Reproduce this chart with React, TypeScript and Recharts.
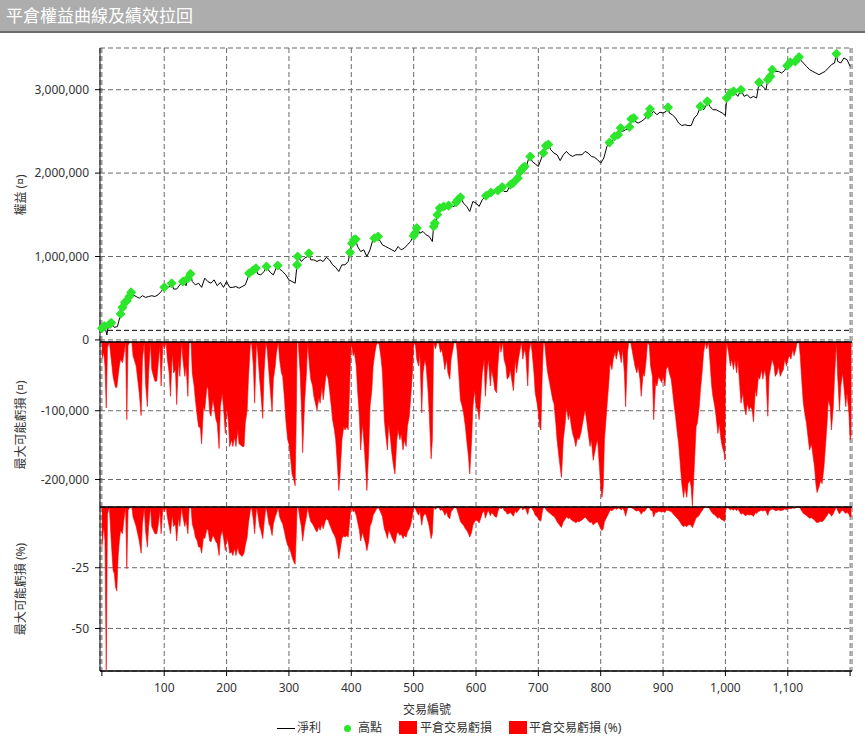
import { ComposedChart, Line, Scatter, Area, XAxis, YAxis, CartesianGrid, ReferenceLine } from 'recharts';

const FONT = "'Noto Sans', 'Noto Sans CJK TC', sans-serif";

// 權益 (thousands), sampled every few trades
const equityK: [number, number][] = [
  [0, 130], [5, 160], [8, 60], [10, 150], [20, 150], [25, 160], [35, 380], [45, 510], [50, 540], [55, 520], [60, 500],
  [65, 530], [70, 510], [75, 520], [80, 530], [85, 520], [90, 540], [95, 580], [105, 620], [110, 650], [115, 610],
  [120, 610], [125, 660], [135, 650], [140, 730], [145, 700], [150, 660], [155, 680], [160, 630], [165, 740], [170, 700],
  [175, 680], [180, 720], [185, 650], [190, 690], [195, 630], [200, 700], [205, 630], [210, 630], [215, 640], [220, 620],
  [225, 640], [230, 660], [235, 760], [240, 795], [245, 830], [250, 790], [255, 780], [260, 820], [265, 860], [270, 810],
  [275, 780], [280, 870], [285, 850], [290, 820], [295, 780], [300, 720], [305, 700], [310, 680], [315, 995], [320, 940],
  [325, 980], [330, 1000], [335, 960], [340, 960], [345, 940], [350, 960], [355, 940], [360, 990], [365, 960], [370, 900],
  [375, 870], [380, 820], [385, 900], [390, 900], [395, 940], [400, 1150], [405, 1205], [410, 1120], [415, 1060],
  [420, 1080], [425, 1000], [430, 1080], [435, 1210], [440, 1230], [445, 1200], [450, 1140], [455, 1120], [460, 1100],
  [465, 1080], [470, 1060], [475, 1120], [480, 1080], [485, 1100], [490, 1140], [495, 1180], [510, 1280], [515, 1300],
  [520, 1260], [525, 1240], [530, 1180], [535, 1380], [540, 1490], [545, 1570], [550, 1560], [555, 1600], [560, 1600],
  [565, 1600], [570, 1640], [580, 1640], [585, 1600], [590, 1540], [595, 1660], [600, 1640], [605, 1600], [610, 1680],
  [615, 1720], [620, 1720], [625, 1765], [630, 1760], [640, 1780], [645, 1780], [650, 1780], [660, 1875], [665, 1870],
  [670, 1960], [680, 2060], [685, 2190], [690, 2140], [695, 2110], [700, 2080], [705, 2180], [710, 2250], [715, 2300],
  [720, 2280], [725, 2240], [730, 2220], [735, 2150], [740, 2220], [745, 2260], [750, 2220], [755, 2200], [760, 2220],
  [765, 2220], [770, 2220], [775, 2260], [780, 2240], [785, 2200], [790, 2190], [795, 2160], [800, 2120], [805, 2180],
  [810, 2320], [815, 2340], [820, 2400], [825, 2420], [830, 2480], [835, 2500], [840, 2520], [845, 2530], [850, 2630],
  [855, 2620], [860, 2600], [865, 2620], [870, 2645], [880, 2700], [885, 2740], [890, 2700], [895, 2730], [900, 2720],
  [905, 2740], [910, 2720], [915, 2700], [920, 2660], [925, 2600], [930, 2570], [935, 2580], [940, 2570], [945, 2570],
  [950, 2660], [955, 2700], [965, 2760], [970, 2820], [975, 2800], [980, 2760], [985, 2760], [990, 2740], [995, 2720],
  [1000, 2690], [1005, 2880], [1010, 2950], [1015, 2960], [1020, 2920], [1030, 2920], [1035, 2940], [1040, 2900],
  [1045, 2920], [1050, 2900], [1055, 3060], [1060, 3040], [1065, 3000], [1070, 3130], [1080, 3220], [1085, 3220],
  [1090, 3200], [1095, 3230], [1100, 3270], [1105, 3310], [1110, 3320], [1115, 3360], [1120, 3360], [1125, 3320],
  [1130, 3280], [1135, 3240], [1140, 3220], [1145, 3200], [1150, 3180], [1155, 3200], [1160, 3220], [1165, 3260],
  [1170, 3300], [1175, 3320], [1180, 3340], [1185, 3320], [1190, 3380], [1195, 3360], [1200, 3280],
];

// 高點 (new equity highs, thousands)
const highsK: [number, number][] = [
  [0, 140], [4, 165], [13, 190], [15, 205], [30, 310], [33, 390], [37, 450], [40, 470], [44, 520], [47, 570],
  [100, 632], [112, 680], [130, 700], [138, 740], [142, 792], [236, 800], [242, 832], [247, 860], [264, 880],
  [282, 892], [313, 900], [314, 1000], [332, 1040], [398, 1048], [401, 1160], [404, 1200], [407, 1208], [437, 1220],
  [443, 1240], [500, 1250], [502, 1280], [505, 1340], [532, 1360], [534, 1400], [538, 1500], [542, 1580], [548, 1600],
  [556, 1610], [568, 1650], [571, 1680], [575, 1710], [616, 1728], [624, 1768], [635, 1792], [642, 1832], [655, 1860],
  [659, 1880], [667, 1940], [671, 2020], [675, 2060], [678, 2080], [687, 2200], [708, 2240], [712, 2328], [716, 2344],
  [814, 2368], [822, 2440], [828, 2460], [832, 2540], [846, 2552], [849, 2648], [853, 2660], [876, 2700], [879, 2768],
  [908, 2788], [960, 2800], [971, 2860], [1002, 2900], [1008, 2960], [1013, 2980], [1025, 3000], [1054, 3088],
  [1068, 3120], [1072, 3160], [1075, 3240], [1099, 3288], [1104, 3328], [1112, 3340], [1118, 3392], [1178, 3432],
];

// [trade, 平倉交易虧損 (thousands), 平倉交易虧損 (%)]
const lossRows: [number, number, number][] = [
  [0, -25, -16.5], [3, -15, -8], [5, -35, -14], [7, -96, -67], [9, -8, -3], [12, 0, 0], [15, -25, -14], [18, -50, -26],
  [20, -59, -27.5], [22, -66, -33], [24, -66, -34.6], [26, -50, -20.6], [28, -35, -14], [30, -25, -9.6], [33, -30, -11],
  [35, -20, -6], [38, 0, 0], [40, -113, -25.4], [42, -5, -1.4], [45, 0, 0], [48, 0, 0], [50, -20, -4], [55, -35, -8],
  [60, -74, -14], [63, -107, -19], [65, -25, -7], [68, 0, 0], [70, -59, -9.6], [73, -94, -16.5], [75, -45, -8], [78, 0, 0],
  [80, -40, -8], [85, -57, -11], [88, -57, -11], [90, -35, -8], [93, -5, -1.4], [95, -64, -11], [98, 0, 0], [100, -10, -2],
  [103, 0, 0], [105, -25, -4], [108, -45, -8], [110, -79, -11], [113, -15, -3.4], [115, -45, -8], [118, -40, -7],
  [120, -91, -14], [123, -25, -4], [125, -50, -8], [128, 0, 0], [130, -25, -4], [133, -50, -8], [135, -35, -5.5],
  [138, -79, -11], [140, 0, 0], [143, 0, 0], [145, -45, -7], [148, -64, -9.6], [150, -84, -12.4], [153, -108, -14],
  [155, -123, -16.5], [158, -125, -16.5], [160, -148, -19], [163, -94, -12.4], [165, -99, -13], [168, -69, -9.6],
  [170, -64, -9], [173, -103, -14], [175, -108, -14.4], [178, -84, -11.7], [180, -94, -12.4], [183, -113, -14.4],
  [185, -118, -15], [188, -155, -20], [190, -94, -12.4], [193, -74, -9.6], [195, -94, -12.4], [198, -133, -17.9],
  [200, -94, -12.4], [203, -116, -15], [205, -152, -19], [208, -142, -18.5], [210, -152, -20], [213, -138, -17],
  [215, -152, -20], [218, -128, -16.5], [220, -148, -19], [223, -150, -20], [225, -152, -20.3], [228, -152, -19],
  [230, -118, -15.8], [233, -99, -12.4], [235, -54, -7], [238, -5, -1.4], [240, 0, 0], [243, -35, -5.5], [245, -89, -11],
  [248, 0, 0], [250, -15, -2.7], [253, -54, -8], [255, -74, -9.6], [258, -111, -13], [260, -45, -7], [263, 0, 0],
  [265, -10, -2], [268, -45, -7], [270, -69, -8], [273, -101, -11.7], [275, -54, -7], [278, -35, -4], [280, -15, -2.7],
  [283, 0, 0], [285, -25, -4], [288, -45, -6], [290, -50, -7], [293, -84, -10.3], [295, -113, -13], [298, -142, -15.8],
  [300, -148, -16.5], [303, -172, -18.5], [305, -192, -20.6], [308, -201, -22.7], [310, -209, -23.6], [312, -94, -9.6],
  [313, 0, 0], [315, 0, 0], [318, -45, -5.5], [320, -94, -8], [322, -161, -14], [325, -89, -8], [328, -45, -4], [330, 0, 0],
  [333, -35, -4], [335, -54, -6], [338, -64, -7], [340, -79, -8], [343, -91, -9.6], [345, -99, -10.3], [348, -81, -8],
  [350, -89, -9.6], [353, -64, -7], [355, -84, -9], [358, -59, -6], [360, -45, -4.8], [363, -54, -5.5], [365, -69, -7],
  [368, -94, -9], [370, -113, -10.3], [373, -128, -11.7], [375, -142, -13], [378, -182, -17], [380, -216, -21.3],
  [382, -192, -17.9], [385, -142, -13], [388, -123, -11.7], [390, -128, -12.4], [393, -123, -11.7], [395, -128, -12.4],
  [398, -45, -4], [400, 0, 0], [403, -20, -2], [405, -15, -1.4], [408, -35, -3.4], [410, -69, -6], [413, -108, -9.6],
  [415, -157, -14], [418, -118, -10.3], [420, -142, -12.4], [423, -182, -15], [425, -216, -18], [428, -157, -14],
  [430, -94, -8], [433, -69, -6], [435, -35, -3.4], [438, -15, -2], [440, -5, -1], [443, 0, 0], [445, -5, -1],
  [448, -25, -2.7], [450, -45, -4], [453, -113, -9], [455, -133, -10.3], [458, -157, -13], [460, -118, -9.6],
  [463, -142, -11], [465, -162, -12.4], [468, -182, -14], [470, -192, -15], [473, -142, -11], [475, -128, -10.3],
  [478, -142, -11.7], [480, -133, -11], [483, -157, -13], [485, -142, -11.7], [488, -152, -12.4], [490, -123, -10.3],
  [493, -108, -9], [495, -84, -7.5], [498, -45, -4], [500, 0, 0], [503, -5, -0.7], [505, -25, -2], [508, -35, -3.4],
  [510, -15, -1.6], [513, -103, -7.5], [515, -45, -4], [518, -25, -2.7], [520, -35, -3.4], [523, -69, -6], [525, -103, -8],
  [528, -170, -13], [530, -142, -11], [532, 0, 0], [535, -10, -1], [538, 0, 0], [540, 0, 0], [543, -15, -1.4],
  [545, -10, -1], [548, -25, -2], [550, -40, -3.4], [553, -25, -2], [555, -45, -4], [558, -54, -4.8], [560, -25, -2],
  [563, -10, -1], [565, 0, 0], [568, 0, 0], [570, -15, -1.4], [573, -54, -4], [575, -84, -6], [578, -94, -7],
  [580, -103, -7.5], [583, -123, -9], [585, -142, -9.6], [588, -167, -11], [590, -192, -12.4], [593, -142, -10.3],
  [595, -94, -7.5], [598, -69, -6], [600, -94, -5.5], [603, -99, -5.8], [605, -113, -6.6], [608, -74, -4.3],
  [610, -45, -2.6], [613, -25, -1.5], [615, -79, -4.6], [618, -40, -2.3], [620, -25, -1.4], [623, -64, -3.6],
  [625, -40, -2.3], [628, -54, -3.1], [630, -69, -3.9], [633, -74, -4.2], [635, -35, -2], [638, 0, 0], [640, -15, -0.8],
  [643, 0, 0], [645, -25, -1.4], [648, -35, -1.9], [650, -54, -2.9], [653, -50, -2.7], [655, -40, -2.2], [658, -59, -3.2],
  [660, -71, -3.8], [663, -25, -1.4], [665, -45, -2.4], [668, -25, -1.4], [670, -15, -0.7], [673, 0, 0], [675, -25, -1.2],
  [678, -10, -0.5], [680, -20, -1], [683, -64, -3.1], [685, -15, -0.7], [688, 0, 0], [690, -15, -0.7], [693, -45, -2],
  [695, -74, -3.4], [698, -89, -4], [700, -103, -4.7], [702, -123, -5.6], [704, -128, -5.8], [706, -54, -2.5], [708, 0, 0],
  [710, 0, 0], [713, -30, -1.3], [715, -45, -1.9], [718, -59, -2.5], [720, -69, -2.9], [723, -84, -3.6], [725, -89, -3.8],
  [728, -118, -5], [730, -142, -6.1], [733, -167, -7.1], [735, -182, -7.8], [737, -197, -8.4], [740, -142, -6.1],
  [743, -118, -5], [745, -94, -4], [748, -113, -4.8], [750, -103, -4.4], [753, -123, -5.3], [755, -133, -5.7],
  [758, -142, -6.1], [760, -152, -6.5], [763, -138, -5.9], [765, -142, -6.1], [768, -133, -5.7], [770, -123, -5.3],
  [773, -108, -4.6], [775, -99, -4.2], [778, -118, -5], [780, -133, -5.7], [783, -152, -6.5], [785, -142, -6.1],
  [788, -172, -7.4], [790, -162, -6.9], [793, -148, -6.3], [795, -142, -6.1], [798, -182, -7.8], [800, -211, -9],
  [802, -226, -9.7], [804, -211, -9], [806, -142, -6.1], [808, -118, -5], [810, -94, -4], [813, -59, -2.5],
  [815, -30, -1.2], [818, -40, -1.6], [820, -25, -1], [823, -15, -0.6], [825, -25, -1], [828, -10, -0.4], [830, -15, -0.6],
  [833, -30, -1.2], [835, -10, -0.4], [838, -45, -1.8], [840, -94, -3.8], [843, -15, -0.6], [845, 0, 0], [848, 0, 0],
  [850, -10, -0.4], [853, -25, -0.9], [855, -35, -1.3], [858, -45, -1.7], [860, -35, -1.3], [863, -54, -2],
  [865, -79, -3], [868, -45, -1.7], [870, -50, -1.9], [873, -25, -0.9], [875, 0, 0], [878, -5, -0.2], [880, -35, -1.3],
  [883, -50, -1.8], [885, -113, -4.1], [888, -59, -2.1], [890, -64, -2.3], [893, -50, -1.8], [895, -54, -1.9],
  [898, -59, -2.1], [900, -50, -1.8], [903, -64, -2.3], [905, -40, -1.4], [908, -35, -1.3], [910, -45, -1.6],
  [913, -54, -1.9], [915, -69, -2.5], [918, -94, -3.4], [920, -108, -3.9], [923, -133, -4.8], [925, -148, -5.3],
  [928, -182, -6.5], [930, -206, -7.4], [933, -226, -8.1], [935, -211, -7.6], [938, -226, -8.1], [940, -206, -7.4],
  [943, -201, -7.2], [945, -211, -7.6], [947, -238, -8.5], [950, -182, -6.5], [953, -123, -4.4], [955, -118, -4.2],
  [958, -94, -3.4], [960, -69, -2.4], [963, -40, -1.4], [965, -15, -0.5], [968, 0, 0], [970, -10, -0.3], [973, 0, 0],
  [975, -25, -0.9], [978, -64, -2.2], [980, -79, -2.8], [983, -94, -3.3], [985, -108, -3.8], [988, -133, -4.7],
  [990, -118, -4.1], [993, -142, -5], [995, -152, -5.3], [998, -162, -5.7], [999, -172, -6], [1000, -54, -1.9],
  [1002, 0, 0], [1005, -15, -0.5], [1008, -35, -1.2], [1010, -25, -0.8], [1013, -40, -1.3], [1015, -25, -0.8],
  [1018, -45, -1.5], [1020, -25, -0.8], [1023, -64, -2.1], [1025, -89, -3], [1028, -74, -2.5], [1030, -94, -3.2],
  [1033, -106, -3.6], [1035, -89, -3], [1038, -99, -3.3], [1040, -94, -3.2], [1043, -99, -3.3], [1045, -116, -3.9],
  [1048, -69, -2.3], [1050, -79, -2.7], [1053, -50, -1.7], [1055, -54, -1.7], [1058, -40, -1.3], [1060, -54, -1.7],
  [1063, -40, -1.3], [1065, -50, -1.6], [1068, -108, -3.5], [1070, -50, -1.6], [1073, -35, -1.1], [1075, -25, -0.8],
  [1078, -35, -1.1], [1080, -50, -1.5], [1083, -45, -1.4], [1085, -35, -1.1], [1088, -50, -1.5], [1090, -45, -1.4],
  [1093, -40, -1.2], [1095, -25, -0.8], [1098, -35, -1.1], [1100, -25, -0.8], [1103, -20, -0.6], [1105, -25, -0.8],
  [1108, -10, -0.3], [1110, -20, -0.6], [1113, -10, -0.3], [1115, 0, 0], [1118, 0, 0], [1120, -20, -0.6],
  [1123, -64, -1.9], [1125, -89, -2.6], [1128, -108, -3.2], [1130, -118, -3.5], [1133, -142, -4.2], [1135, -157, -4.6],
  [1138, -148, -4.4], [1140, -162, -4.8], [1143, -182, -5.4], [1145, -206, -6.1], [1147, -219, -6.5], [1150, -211, -6.2],
  [1153, -201, -5.9], [1155, -206, -6.1], [1158, -182, -5.4], [1160, -157, -4.6], [1163, -118, -3.5], [1165, -84, -2.5],
  [1168, -94, -2.8], [1170, -128, -3.8], [1173, -94, -2.8], [1175, -50, -1.5], [1178, 0, 0], [1180, -50, -1.5],
  [1183, -99, -2.9], [1185, -64, -1.9], [1188, -45, -1.3], [1190, -64, -1.9], [1193, -94, -2.7], [1195, -74, -2.2],
  [1198, -103, -3], [1200, -142, -4.1], [1202, -133, -3.9],
];

const tradeTicks = [0, 100, 200, 300, 400, 500, 600, 700, 800, 900, 1000, 1100, 1200];
const equityTicks = [0, 1000000, 2000000, 3000000];
const lossTicks = [-100000, -200000];
const pctTicks = [-25, -50];
const startEquity = 115000;

// build chart rows
const lineMap = new Map<number, number>();
equityK.forEach(([t, v]) => lineMap.set(t, v));
highsK.forEach(([t, v]) => lineMap.set(t, v));
const equityRows = [...lineMap.entries()].sort((a, b) => a[0] - b[0]).map(([t, v]) => ({ t, v: v * 1000 }));
const highRows = highsK.map(([t, v]) => ({ t, v: v * 1000 }));
const lossData = lossRows.map(([t, k, p]) => ({ t, d: k * 1000, p }));

const X_DOMAIN = [-3, 1203];
const GREEN = '#2ce62c';
const RED = '#ff0000';
const tick = { fontSize: 12, fill: '#333', fontFamily: FONT };
const grid = { stroke: '#6a6a6a', strokeDasharray: '5 3' };
const fmt = (v: number) => v.toLocaleString('en-US');

const Diamond = (p: any) => {
  const { cx, cy } = p;
  if (cx == null || cy == null) return null;
  const r = 4;
  return (
    <polygon
      points={`${cx},${cy - r} ${cx + r},${cy} ${cx},${cy + r} ${cx - r},${cy}`}
      fill={GREEN}
      stroke={GREEN}
      strokeWidth={1.5}
      strokeLinejoin="round"
    />
  );
};

const yTitle = (text: string, cy: number) => (
  <div
    style={{
      position: 'absolute', left: 21 - 100, top: cy - 8, width: 200, height: 16, lineHeight: '16px',
      textAlign: 'center', fontSize: 12, color: '#333', transform: 'rotate(-90deg)', whiteSpace: 'nowrap',
    }}
  >
    {text}
  </div>
);

const legendText = (text: string, left: number) => (
  <div style={{ position: 'absolute', left, top: 720, lineHeight: '16px', fontSize: 12, color: '#333', whiteSpace: 'nowrap' }}>
    {text}
  </div>
);

export default function App() {
  return (
    <div style={{ position: 'absolute', left: 0, top: 0, width: 865, height: 742, background: '#fff', fontFamily: FONT, overflow: 'hidden' }}>
      <div
        style={{
          position: 'absolute', left: 0, top: 0, width: 859, height: 31, background: '#adadad',
          borderBottom: '2px solid #6b6b6b', color: '#fff', fontSize: 17, lineHeight: '31px', paddingLeft: 6,
        }}
      >
        平倉權益曲線及績效拉回
      </div>

      <div style={{ position: 'absolute', left: 0, top: 33 }}>
        <ComposedChart width={865} height={321} data={equityRows} margin={{ top: 15, right: 13, bottom: 12, left: 12 }}>
          <CartesianGrid {...grid} />
          <XAxis dataKey="t" type="number" domain={X_DOMAIN} ticks={tradeTicks} hide />
          <YAxis
            width={88} domain={[-25000, 3500000]} ticks={equityTicks} tickFormatter={fmt} tick={tick} interval={0}
            axisLine={{ stroke: '#000' }} tickLine={{ stroke: '#000' }} tickSize={5} tickMargin={6}
          />
          <ReferenceLine y={startEquity} stroke="#000" strokeDasharray="5 3" />
          <Line dataKey="v" type="linear" stroke="#000" strokeWidth={1} dot={false} activeDot={false} isAnimationActive={false} />
          <Scatter data={highRows} dataKey="v" shape={Diamond} isAnimationActive={false} />
        </ComposedChart>
      </div>

      <div style={{ position: 'absolute', left: 0, top: 339 }}>
        <ComposedChart width={865} height={168} data={lossData} margin={{ top: 3, right: 13, bottom: 0, left: 12 }}>
          <CartesianGrid {...grid} />
          <XAxis dataKey="t" type="number" domain={X_DOMAIN} ticks={tradeTicks} hide />
          <YAxis
            width={88} domain={[-240000, 0]} ticks={lossTicks} tickFormatter={fmt} tick={tick} interval={0}
            axisLine={{ stroke: '#000' }} tickLine={{ stroke: '#000' }} tickSize={5} tickMargin={6}
          />
          <Area dataKey="d" type="linear" baseValue={0} stroke={RED} strokeWidth={0.6} fill={RED} fillOpacity={1} isAnimationActive={false} />
          <ReferenceLine y={0} stroke="#000" strokeWidth={1.5} />
        </ComposedChart>
      </div>

      <div style={{ position: 'absolute', left: 0, top: 504 }}>
        <ComposedChart width={865} height={197} data={lossData} margin={{ top: 3, right: 13, bottom: 0, left: 12 }}>
          <CartesianGrid {...grid} />
          <XAxis
            dataKey="t" type="number" domain={X_DOMAIN} ticks={tradeTicks} height={30} interval={0}
            tickFormatter={(v: number) => (v === 0 || v === 1200 ? '' : fmt(v))} tick={tick}
            axisLine={{ stroke: '#000', strokeWidth: 1.5 }} tickLine={{ stroke: '#000' }} tickSize={5} tickMargin={7}
          />
          <YAxis
            width={88} domain={[-67.5, 0]} ticks={pctTicks} tick={tick} interval={0}
            axisLine={{ stroke: '#000' }} tickLine={{ stroke: '#000' }} tickSize={5} tickMargin={6}
          />
          <Area dataKey="p" type="linear" baseValue={0} stroke={RED} strokeWidth={0.6} fill={RED} fillOpacity={1} isAnimationActive={false} />
          <ReferenceLine y={0} stroke="#000" strokeWidth={1.5} />
        </ComposedChart>
      </div>

      {yTitle('權益 (¤)', 195)}
      {yTitle('最大可能虧損 (¤)', 425)}
      {yTitle('最大可能虧損 (%)', 589)}

      <div style={{ position: 'absolute', left: 377, top: 702, width: 100, textAlign: 'center', fontSize: 12, lineHeight: '16px', color: '#333' }}>
        交易編號
      </div>

      <div style={{ position: 'absolute', left: 277, top: 728, width: 18, height: 1, background: '#000' }} />
      {legendText('淨利', 297)}
      <div style={{ position: 'absolute', left: 344, top: 725, width: 7, height: 7, borderRadius: '50%', background: GREEN }} />
      {legendText('高點', 358)}
      <div style={{ position: 'absolute', left: 399, top: 721, width: 18, height: 13, background: RED }} />
      {legendText('平倉交易虧損', 420)}
      <div style={{ position: 'absolute', left: 509, top: 721, width: 18, height: 13, background: RED }} />
      {legendText('平倉交易虧損 (%)', 529)}
    </div>
  );
}
